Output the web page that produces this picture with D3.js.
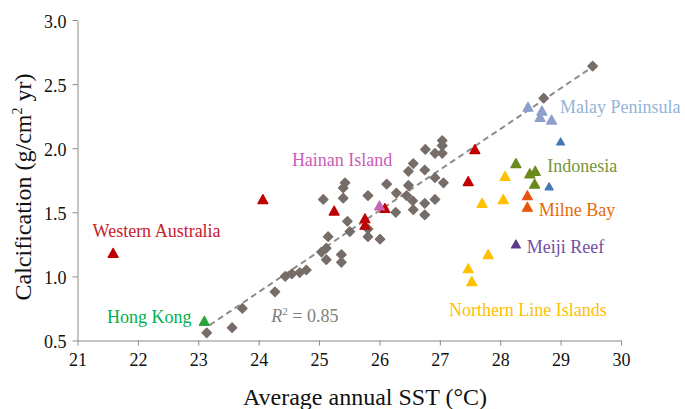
<!DOCTYPE html>
<html>
<head>
<meta charset="utf-8">
<script src="https://cdn.jsdelivr.net/npm/d3@7"></script>
<style>
  body { margin: 0; background: #fff; }
  svg { display: block; }
  .axis path, .axis line { stroke: #8a8a8a; }
  .axis text { fill: #111; }
</style>
</head>
<body>
<svg id="chart" width="685" height="409"></svg>
<script>
// reef sites without a region label (sst, calcification)
var grayPoints = [
  [29.53, 2.64], [28.72, 2.39], [27.04, 2.06], [27.04, 2.02], [26.76, 1.99],
  [26.92, 1.96], [27.04, 1.96], [26.56, 1.88], [26.48, 1.82], [26.75, 1.83],
  [26.92, 1.77], [27.06, 1.73], [25.43, 1.73], [25.40, 1.69], [26.12, 1.72],
  [26.28, 1.65], [26.48, 1.71], [25.81, 1.63], [25.07, 1.60], [25.40, 1.61],
  [26.45, 1.63], [26.55, 1.59], [26.75, 1.57], [26.92, 1.60], [26.27, 1.50],
  [26.56, 1.52], [26.75, 1.48], [25.47, 1.43], [25.51, 1.35], [25.81, 1.37],
  [25.81, 1.31], [26.01, 1.29], [25.15, 1.31], [25.12, 1.22], [25.04, 1.19],
  [25.37, 1.17], [25.12, 1.13], [25.37, 1.11], [24.79, 1.05], [24.68, 1.03],
  [24.55, 1.02], [24.44, 1.00], [24.27, 0.88], [23.73, 0.75], [23.56, 0.60],
  [23.14, 0.56]
];
var westernAustralia = [[21.59, 1.18], [24.07, 1.60], [25.25, 1.51], [25.76, 1.45],
  [25.76, 1.40], [26.09, 1.53], [27.58, 1.99], [27.47, 1.74]];
var hainanIsland = [[26.00, 1.55]];
var hongKong = [[23.10, 0.65]];
var indonesia = [[28.26, 1.88], [28.49, 1.80], [28.58, 1.82], [28.57, 1.72]];
var blueSites = [[29.00, 2.05], [28.81, 1.70]];
var malayPeninsula = [[28.46, 2.32], [28.69, 2.29], [28.66, 2.24], [28.85, 2.22]];
var milneBay = [[28.45, 1.63], [28.45, 1.54]];
var lineIslands = [[28.08, 1.78], [27.70, 1.57], [28.05, 1.60], [27.80, 1.17],
  [27.47, 1.06], [27.53, 0.96]];
var meijiReef = [[28.26, 1.25]];
var trendX = [23.19, 29.53];
var trendY = [0.62, 2.635];
var xTicks = [21, 22, 23, 24, 25, 26, 27, 28, 29, 30];
var yTicks = [0.5, 1.0, 1.5, 2.0, 2.5, 3.0];

var serif = 'Tinos, "Noto Serif", FreeSerif, "Nimbus Roman", "Nimbus Roman No9 L", "Liberation Serif", "DejaVu Serif", serif';

var svg = d3.select("#chart");
var x = d3.scaleLinear().domain([21, 30]).range([77.5, 621]);
var y = d3.scaleLinear().domain([0.5, 3]).range([340.5, 20]);

svg.append("g")
    .attr("class", "axis")
    .attr("transform", "translate(0," + y(0.5) + ")")
    .call(d3.axisBottom(x).tickValues(xTicks).tickFormat(d3.format("d"))
      .tickSize(5).tickSizeOuter(0).tickPadding(8))
    .attr("font-family", serif).attr("font-size", 18);

svg.append("g")
    .attr("class", "axis")
    .attr("transform", "translate(" + x(21) + ",0)")
    .call(d3.axisLeft(y).tickValues(yTicks).tickFormat(d3.format(".1f"))
      .tickSize(5).tickSizeOuter(0).tickPadding(6))
    .attr("font-family", serif).attr("font-size", 18)
  .selectAll("text").attr("dy", "0.4em");

// trend line
svg.append("line")
    .attr("x1", x(trendX[0])).attr("y1", y(trendY[0]))
    .attr("x2", x(trendX[1])).attr("y2", y(trendY[1]))
    .attr("stroke", "#8c8c8c").attr("stroke-width", 2)
    .attr("stroke-dasharray", "6,4");

// gray diamonds
svg.append("g").selectAll("path")
    .data(grayPoints)
  .enter().append("path")
    .attr("d", d3.symbol().type(d3.symbolSquare).size(42))
    .attr("transform", function(d) { return "translate(" + x(d[0]) + "," + y(d[1]) + ") rotate(45)"; })
    .attr("fill", "#766d69").attr("stroke", "#766d69")
    .attr("stroke-width", 1.5).attr("stroke-linejoin", "round");

function tri(w, h) {
  return "M0," + (-h * 0.55) + "L" + (w / 2) + "," + (h * 0.45) + "L" + (-w / 2) + "," + (h * 0.45) + "Z";
}

var groups = [
  {data: westernAustralia, color: "#c00000", w: 10, h: 9},
  {data: hainanIsland, color: "#c964b6", w: 10, h: 9},
  {data: hongKong, color: "#2ea33e", w: 10, h: 9},
  {data: lineIslands, color: "#ffc000", w: 10, h: 9},
  {data: milneBay, color: "#e8540c", w: 10, h: 9},
  {data: indonesia, color: "#6a8a1e", w: 10, h: 9},
  {data: malayPeninsula, color: "#8e9fcb", w: 10, h: 9},
  {data: blueSites, color: "#4276b6", w: 8, h: 7},
  {data: meijiReef, color: "#5c3a8c", w: 9, h: 8}
];

groups.forEach(function(gr) {
  svg.append("g").selectAll("path")
      .data(gr.data)
    .enter().append("path")
      .attr("d", tri(gr.w, gr.h))
      .attr("transform", function(d) { return "translate(" + x(d[0]) + "," + y(d[1]) + ")"; })
      .attr("fill", gr.color).attr("stroke", gr.color)
      .attr("stroke-width", 1.2).attr("stroke-linejoin", "round");
});

// region labels
var labels = [
  {text: "Malay Peninsula", x: 28.99, y: 2.275, color: "#95b3d7"},
  {text: "Indonesia", x: 28.78, y: 1.817, color: "#77933c"},
  {text: "Milne Bay", x: 28.64, y: 1.473, color: "#e46c0a"},
  {text: "Meiji Reef", x: 28.44, y: 1.185, color: "#7050a4"},
  {text: "Northern Line Islands", x: 27.15, y: 0.691, color: "#ffc000"},
  {text: "Hong Kong", x: 21.49, y: 0.639, color: "#00b050"},
  {text: "Western Australia", x: 21.25, y: 1.305, color: "#c8202a"},
  {text: "Hainan Island", x: 24.55, y: 1.864, color: "#c95db5"}
];
svg.append("g").selectAll("text")
    .data(labels)
  .enter().append("text")
    .attr("x", function(d) { return x(d.x); })
    .attr("y", function(d) { return y(d.y); })
    .attr("fill", function(d) { return d.color; })
    .attr("font-family", serif)
    .attr("font-size", 18)
    .text(function(d) { return d.text; });

var r2 = svg.append("text")
    .attr("x", x(24.21)).attr("y", y(0.647))
    .attr("font-family", serif)
    .attr("fill", "#7f7f7f").attr("font-size", 18);
r2.append("tspan").attr("font-style", "italic").text("R");
r2.append("tspan").attr("dy", -7).attr("font-size", 11).text("2");
r2.append("tspan").attr("dy", 7).text(" = 0.85");

// axis titles
svg.append("text")
    .attr("x", 365).attr("y", 405)
    .attr("text-anchor", "middle")
    .attr("font-family", serif)
    .attr("font-size", 24).attr("fill", "#111")
    .text("Average annual SST (°C)");

var yt = svg.append("text")
    .attr("transform", "translate(31,187) rotate(-90)")
    .attr("text-anchor", "middle")
    .attr("font-family", serif)
    .attr("font-size", 24).attr("fill", "#111");
yt.append("tspan").text("Calcification (g/cm");
yt.append("tspan").attr("dy", -9).attr("font-size", 14).text("2");
yt.append("tspan").attr("dy", 9).text(" yr)");
</script>
</body>
</html>
